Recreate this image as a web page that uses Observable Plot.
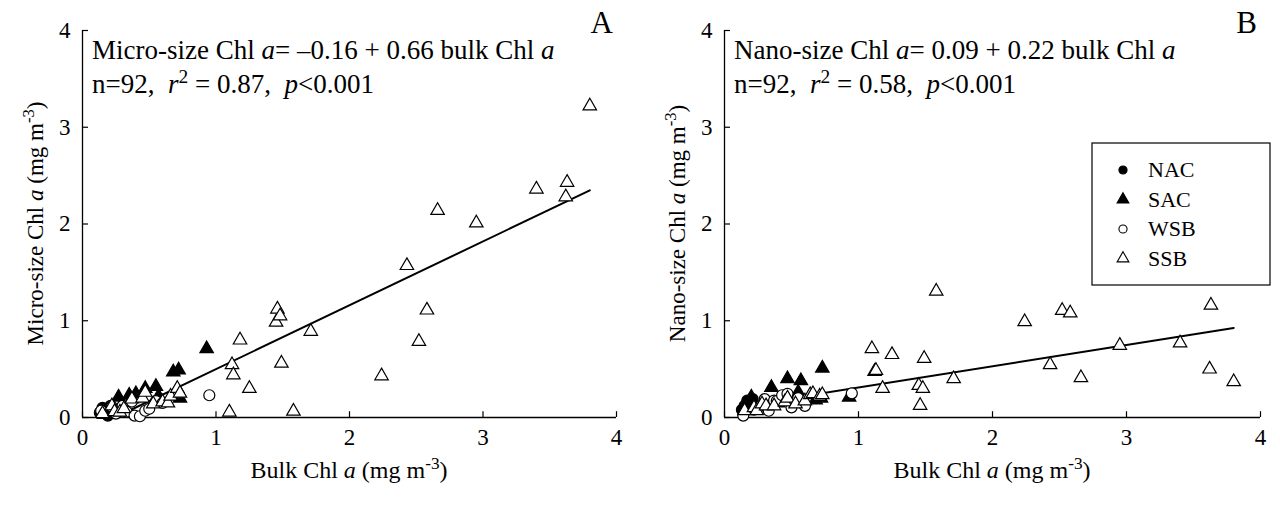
<!DOCTYPE html>
<html><head><meta charset="utf-8">
<script src="https://cdn.jsdelivr.net/npm/d3@7"></script>
<script src="https://cdn.jsdelivr.net/npm/@observablehq/plot@0.6"></script>
<style>
body{margin:0;background:#fff;}
#wrap{display:flex;width:1280px;height:510px;overflow:hidden;}
svg text{font-family:"Liberation Serif","Times New Roman",serif;}
svg g[aria-label$="tick label"] text{font-size:23px;}
</style></head><body><div id="wrap"></div>
<script>
// ---- data ----
const groups = ["NAC", "SAC", "WSB", "SSB"];

const nacBulk  = [0.13, 0.15, 0.17, 0.19, 0.21];
const nacMicro = [0.05, 0.10, 0.06, 0.02, 0.12];
const nacNano  = [0.08, 0.12, 0.175, 0.14, 0.19];

const sacBulk  = [0.93, 0.73, 0.72, 0.68, 0.57, 0.55, 0.47, 0.40, 0.35, 0.27, 0.20, 0.16];
const sacMicro = [0.71, 0.20, 0.49, 0.47, 0.22, 0.32, 0.30, 0.245, 0.23, 0.21, 0.06, 0.03];
const sacNano  = [0.21, 0.51, 0.20, 0.18, 0.38, 0.26, 0.40, 0.15, 0.31, 0.12, 0.21, 0.10];

const wsbBulk  = [0.14, 0.22, 0.25, 0.30, 0.33, 0.37, 0.39, 0.43, 0.47, 0.50, 0.55, 0.60, 0.95];
const wsbMicro = [0.07, 0.11, 0.04, 0.12, 0.06, 0.165, 0.02, 0.013, 0.07, 0.09, 0.17, 0.15, 0.23];
const wsbNano  = [0.02, 0.08, 0.105, 0.19, 0.07, 0.175, 0.17, 0.23, 0.245, 0.105, 0.20, 0.12, 0.25];

const ssbBulk  = [0.15, 0.22, 0.24, 0.28, 0.31, 0.37, 0.45, 0.47, 0.53, 0.60, 0.64, 0.66, 0.71, 0.73,
                  1.10, 1.12, 1.13, 1.18, 1.25, 1.45, 1.46, 1.48, 1.49, 1.58, 1.71,
                  2.24, 2.43, 2.52, 2.58, 2.66, 2.95, 3.40, 3.62, 3.63, 3.80];
const ssbMicro = [0.04, 0.12, 0.06, 0.055, 0.09, 0.19, 0.20, 0.26, 0.14, 0.16, 0.15, 0.22, 0.30, 0.25,
                  0.055, 0.545, 0.44, 0.80, 0.30, 0.985, 1.12, 1.05, 0.56, 0.065, 0.89,
                  0.43, 1.57, 0.785, 1.11, 2.14, 2.01, 2.36, 2.28, 2.43, 3.22];
const ssbNano  = [0.07, 0.10, 0.07, 0.14, 0.12, 0.12, 0.16, 0.20, 0.14, 0.17, 0.235, 0.245, 0.22, 0.235,
                  0.71, 0.475, 0.485, 0.30, 0.65, 0.33, 0.124, 0.30, 0.61, 1.305, 0.40,
                  0.99, 0.545, 1.106, 1.08, 0.41, 0.745, 0.77, 0.50, 1.16, 0.37];

const intercepts = [-0.16, 0.09];
const slopes     = [0.66, 0.22];
const r2s        = ["0.87", "0.58"];
const nObs       = 92;
const xTicks = [0, 1, 2, 3, 4];
const yTicks = [0, 1, 2, 3, 4];

// ---- build table ----
const cols = {
  NAC: [nacBulk, nacMicro, nacNano],
  SAC: [sacBulk, sacMicro, sacNano],
  WSB: [wsbBulk, wsbMicro, wsbNano],
  SSB: [ssbBulk, ssbMicro, ssbNano]
};
const rows = [];
for (const g of groups) {
  const [b, m, n] = cols[g];
  b.forEach((v, i) => rows.push({group: g, bulk: v, micro: m[i], nano: n[i]}));
}
const allBulk = rows.map(d => d.bulk);
const bMin = d3.min(allBulk), bMax = d3.max(allBulk);

const style = {
  NAC: {symbol: "circle", fill: "black", r: 5.5},
  SAC: {symbol: "triangle", fill: "black", r: 5.0},
  WSB: {symbol: "circle", fill: "white", r: 5.5},
  SSB: {symbol: "triangle", fill: "white", r: 5.0}
};

function panel(key, idx, mLeft, mRight) {
  const a = intercepts[idx], b = slopes[idx];
  const x0 = Math.max(bMin, a < 0 ? -a / b : bMin);
  const fit = [x0, bMax].map(x => ({x, y: a + b * x}));
  const marks = [
    Plot.ruleY([0], {stroke: "black", strokeWidth: 1.3}),
    Plot.ruleX([0], {stroke: "black", strokeWidth: 1.3}),
    Plot.ruleY(yTicks, {y: d => d, x1: 0, x2: 0.045, stroke: "black", strokeWidth: 1.2}),
    Plot.ruleX(xTicks, {x: d => d, y1: 0, y2: 0.06, stroke: "black", strokeWidth: 1.2}),
    Plot.line(fit, {x: "x", y: "y", stroke: "black", strokeWidth: 2})
  ];
  for (const g of groups) {
    const s = style[g];
    marks.push(Plot.dot(rows.filter(d => d.group === g), {
      x: "bulk", y: key, symbol: () => s.symbol, r: s.r,
      fill: s.fill, stroke: "black", strokeWidth: 1.2
    }));
  }
  marks.push(Plot.axisX(xTicks, {tickSize: 0, tickPadding: 11, tickFormat: d3.format("d"), label: null, fontSize: 23}));
  marks.push(Plot.axisY(yTicks, {tickSize: 0, tickPadding: 12, tickFormat: d3.format("d"), label: null, fontSize: 23}));
  return Plot.plot({
    width: 640, height: 510,
    marginLeft: mLeft, marginRight: mRight, marginTop: 30, marginBottom: 93,
    x: {domain: [0, 4]}, y: {domain: [0, 4]},
    symbol: {type: "identity"},
    style: {fontFamily: "Liberation Serif", fontSize: "23px", color: "black", background: "white", overflow: "visible"},
    marks
  });
}

function richText(sel, x, y, parts, size, anchor = "start") {
  const t = sel.append("text").attr("x", x).attr("y", y).attr("text-anchor", anchor)
    .attr("font-size", size).attr("fill", "black").style("white-space", "pre");
  for (const p of parts) {
    const ts = t.append("tspan").text(p.t);
    if (p.i) ts.attr("font-style", "italic");
    if (p.sup) ts.attr("font-size", size * 0.72).attr("baseline-shift", "super");
  }
  return t;
}

const wrap = document.getElementById("wrap");
const names = ["Micro-size", "Nano-size"];
const letters = ["A", "B"];
[["micro", 0, 82, 24], ["nano", 1, 84, 20]].forEach(([key, idx, ml, mr]) => {
  const chart = panel(key, idx, ml, mr);
  wrap.appendChild(chart);
  const svg = d3.select(chart);
  const sx = chart.scale("x"), sy = chart.scale("y");
  const left = sx.apply(0), right = sx.apply(4), top = sy.apply(4), bottom = sy.apply(0);
  const sign = intercepts[idx] < 0 ? "\u2013" + Math.abs(intercepts[idx]).toFixed(2) : intercepts[idx].toFixed(2);
  richText(svg, left + 10, top + 29, [
    {t: names[idx] + " Chl "}, {t: "a", i: true}, {t: "= " + sign + " + " + slopes[idx].toFixed(2) + " bulk Chl "}, {t: "a", i: true}
  ], 27);
  richText(svg, left + 10, top + 63, [
    {t: "n=" + nObs + ",  "}, {t: "r", i: true}, {t: "2", sup: true}, {t: " = " + r2s[idx] + ",  "}, {t: "p", i: true}, {t: "<0.001"}
  ], 27);
  svg.append("text").attr("x", right - 3).attr("y", top + 3).attr("text-anchor", "end")
    .attr("font-size", 31).attr("fill", "black").text(letters[idx]);
  // x axis title
  richText(svg, (left + right) / 2, bottom + 61, [
    {t: "Bulk Chl "}, {t: "a", i: true}, {t: " (mg m"}, {t: "-3", sup: true}, {t: ")"}
  ], 24, "middle");
  // y axis title
  const yt = richText(svg, 0, 0, [
    {t: names[idx] + " Chl "}, {t: "a", i: true}, {t: " (mg m"}, {t: "-3", sup: true}, {t: ")"}
  ], 23, "middle");
  yt.attr("transform", `translate(${left - 39},${(top + bottom) / 2}) rotate(-90)`);

  if (idx === 1) {
    const lg = svg.append("g");
    const bx = 452, by = 143, bw = 178, bh = 142;
    lg.append("rect").attr("x", bx).attr("y", by).attr("width", bw).attr("height", bh)
      .attr("fill", "white").attr("stroke", "black").attr("stroke-width", 1.2);
    groups.forEach((g, i) => {
      const cy = by + 27 + i * 29.5;
      const s = style[g];
      const sym = d3.symbol(s.symbol === "circle" ? d3.symbolCircle : d3.symbolTriangle, s.symbol === "circle" ? 52 : 60);
      lg.append("path").attr("d", sym()).attr("transform", `translate(${bx + 31},${cy})`)
        .attr("fill", s.fill).attr("stroke", "black").attr("stroke-width", 1.1);
      lg.append("text").attr("x", bx + 56).attr("y", cy + 7).attr("text-anchor", "start")
        .attr("font-size", 22).attr("fill", "black").text(g);
    });
  }
});
</script></body></html>
